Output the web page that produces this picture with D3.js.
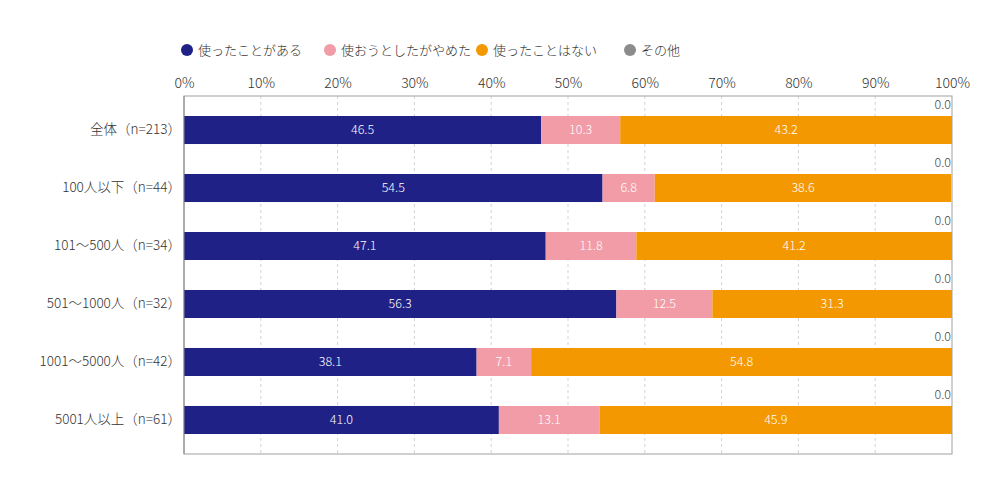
<!DOCTYPE html>
<html><head><meta charset="utf-8">
<script src="https://cdn.jsdelivr.net/npm/d3@7"></script>
<style>body{margin:0;background:#fff;}svg{font-family:"Noto Sans CJK JP","Noto Sans",sans-serif;font-weight:300;}</style>
</head><body>
<svg id="c" width="1000" height="500"></svg>
<script>
const categories = ["全体（n=213）","100人以下（n=44）","101～500人（n=34）","501～1000人（n=32）","1001～5000人（n=42）","5001人以上（n=61）"];
const seriesNames = ["使ったことがある","使おうとしたがやめた","使ったことはない","その他"];
const used = [46.5,54.5,47.1,56.3,38.1,41.0];
const quit = [10.3,6.8,11.8,12.5,7.1,13.1];
const never = [43.2,38.6,41.2,31.3,54.8,45.9];
const other = [0.0,0.0,0.0,0.0,0.0,0.0];
const tickValues = [0,10,20,30,40,50,60,70,80,90,100];
const colors = ["#1f2187","#f19ca7","#f39800","#8c8c8c"];

(function(){
const svg = d3.select("#c");
const pL=184, pR=952, pT=96, pB=454;
const x = d3.scaleLinear().domain([0,100]).range([pL,pR]);
const y = d3.scaleBand().domain(categories).range([pT,pB]).paddingInner(0.517).paddingOuter(0.345);
const series=[used,quit,never,other];
const rows = categories.map((c,i)=>{const o={cat:c};seriesNames.forEach((s,j)=>o[s]=series[j][i]);return o;});
const stack = d3.stack().keys(seriesNames)(rows);

svg.append("g").selectAll("line").data(tickValues.slice(1,-1)).join("line")
  .attr("x1",d=>x(d)).attr("x2",d=>x(d)).attr("y1",pT).attr("y2",pB)
  .attr("stroke","#c8c8c8").attr("stroke-dasharray","3,3").attr("stroke-width",0.8);
svg.append("rect").attr("x",pL).attr("y",pT).attr("width",pR-pL).attr("height",pB-pT)
  .attr("fill","none").attr("stroke","#a0a0a0").attr("stroke-width",1);

stack.forEach((s,j)=>{
  const g=svg.append("g");
  g.selectAll("rect").data(s).join("rect")
    .attr("x",d=>x(Math.min(d[0],100))).attr("width",d=>Math.max(0,x(Math.min(d[1],100))-x(Math.min(d[0],100))))
    .attr("y",d=>y(d.data.cat)).attr("height",y.bandwidth()).attr("fill",colors[j]);
  if(j<3){
    g.selectAll("text").data(s).join("text")
      .attr("x",d=>x((Math.min(d[0],100)+Math.min(d[1],100))/2)).attr("y",d=>y(d.data.cat)+y.bandwidth()/2)
      .attr("dy","0.35em").attr("text-anchor","middle").attr("fill","#fff").attr("font-size",12.5)
      .text(d=>(d[1]-d[0]).toFixed(1));
  } else {
    g.selectAll("text").data(s).join("text")
      .attr("x",pR-1).attr("y",d=>y(d.data.cat)-7)
      .attr("text-anchor","end").attr("fill","#444").attr("font-size",12.5)
      .text(d=>(d[1]-d[0]).toFixed(1));
  }
});

svg.append("line").attr("x1",pL).attr("x2",pL).attr("y1",pT).attr("y2",pB).attr("stroke","#888");

const ax = svg.append("g").attr("transform",`translate(0,${pT})`)
  .call(d3.axisTop(x).tickValues(tickValues).tickFormat(d=>d+"%").tickSize(0).tickPadding(8));
ax.select(".domain").remove();
ax.selectAll("text").attr("font-size",14).attr("fill","#333").attr("font-family","'Noto Sans CJK JP',sans-serif");

const ay = svg.append("g").attr("transform",`translate(${pL},0)`)
  .call(d3.axisLeft(y).tickSize(0).tickPadding(3));
ay.select(".domain").remove();
ay.selectAll("text").attr("font-size",13.5).attr("fill","#333").attr("font-family","'Noto Sans CJK JP',sans-serif");

const legX=[187,330,482,630];
const lg=svg.append("g");
seriesNames.forEach((s,i)=>{
  lg.append("circle").attr("cx",legX[i]).attr("cy",50).attr("r",6).attr("fill",colors[i]);
  lg.append("text").attr("x",legX[i]+11).attr("y",50).attr("dy","0.35em").attr("font-size",13).attr("fill","#333").text(s);
});
})();
</script>
</body></html>
